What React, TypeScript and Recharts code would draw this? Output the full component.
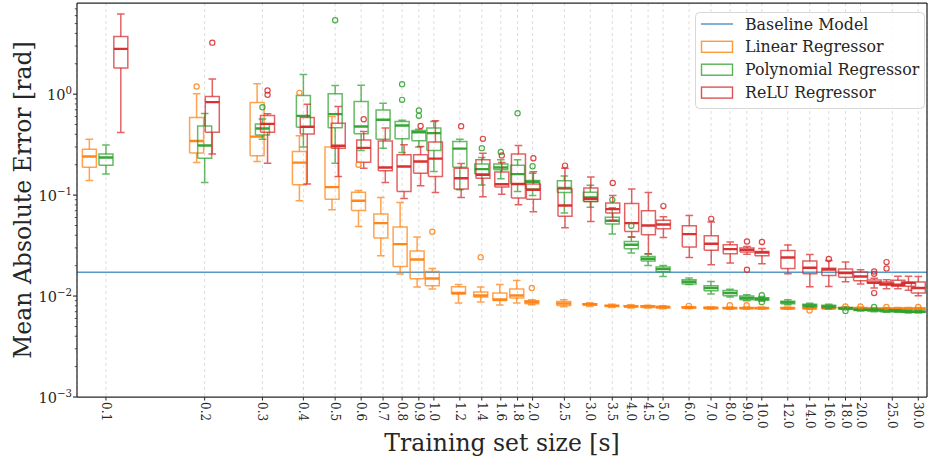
import React from 'react';
import { ComposedChart, Line, Scatter, XAxis, YAxis, CartesianGrid, ReferenceLine } from 'recharts';

// ---------- data ----------
const positions = [0.1, 0.2, 0.3, 0.4, 0.5, 0.6, 0.7, 0.8, 0.9, 1.0, 1.2, 1.4, 1.6, 1.8, 2.0, 2.5, 3.0, 3.5, 4.0, 4.5, 5.0, 6.0, 7.0, 8.0, 9.0, 10.0, 12.0, 14.0, 16.0, 18.0, 20.0, 22.0, 24.0, 26.0, 28.0, 30.0];

const xTickValues = [0.1, 0.2, 0.3, 0.4, 0.5, 0.6, 0.7, 0.8, 0.9, 1.0, 1.2, 1.4, 1.6, 1.8, 2.0, 2.5, 3.0, 3.5, 4.0, 4.5, 5.0, 6.0, 7.0, 8.0, 9.0, 10.0, 12.0, 14.0, 16.0, 18.0, 20.0, 25.0, 30.0];
const xTickLabels = ['0.1', '0.2', '0.3', '0.4', '0.5', '0.6', '0.7', '0.8', '0.9', '1.0', '1.2', '1.4', '1.6', '1.8', '2.0', '2.5', '3.0', '3.5', '4.0', '4.5', '5.0', '6.0', '7.0', '8.0', '9.0', '10.0', '12.0', '14.0', '16.0', '18.0', '20.0', '25.0', '30.0'];

const yMajorTicks = [0.001, 0.01, 0.1, 1];
const yTickExponents = ['\u22123', '\u22122', '\u22121', '0'];
const yMinorTicks = [
  0.002, 0.003, 0.004, 0.005, 0.006, 0.007, 0.008, 0.009,
  0.02, 0.03, 0.04, 0.05, 0.06, 0.07, 0.08, 0.09,
  0.2, 0.3, 0.4, 0.5, 0.6, 0.7, 0.8, 0.9,
  2, 3, 4, 5, 6, 7,
];

const baselineError = 0.0172;

// [whisker low, Q1, median, Q3, whisker high] per training-set size
const linearBoxes = [
  [0.1395, 0.189, 0.241, 0.285, 0.358],
  [0.21, 0.261, 0.343, 0.587, 1.01],
  [0.215, 0.245, 0.38, 0.826, 1.265],
  [0.0879, 0.1265, 0.21, 0.27, 0.387],
  [0.0715, 0.0912, 0.12, 0.299, 0.6],
  [0.0489, 0.0704, 0.0879, 0.107, 0.111],
  [0.0251, 0.0375, 0.0528, 0.0649, 0.0946],
  [0.0165, 0.0196, 0.0327, 0.0482, 0.0845],
  [0.01227, 0.0148, 0.023, 0.0279, 0.0384],
  [0.01172, 0.01265, 0.01494, 0.01753, 0.01876],
  [0.00853, 0.01046, 0.01071, 0.01236, 0.01303],
  [0.00872, 0.00977, 0.01014, 0.01096, 0.01227],
  [0.00814, 0.00904, 0.00925, 0.01071, 0.01303],
  [0.00853, 0.00955, 0.01014, 0.01172, 0.01427],
  [0.0082, 0.0084, 0.00872, 0.009, 0.0092],
  [0.00785, 0.00807, 0.00845, 0.00885, 0.0092],
  [0.0079, 0.0081, 0.0083, 0.0084, 0.0086],
  [0.0077, 0.0079, 0.008, 0.0081, 0.0083],
  [0.0076, 0.0078, 0.0079, 0.008, 0.0082],
  [0.0076, 0.0077, 0.0079, 0.008, 0.0081],
  [0.0075, 0.0076, 0.0078, 0.0079, 0.008],
  [0.0075, 0.0076, 0.0077, 0.0078, 0.0079],
  [0.0074, 0.0075, 0.00765, 0.0077, 0.0078],
  [0.0074, 0.0075, 0.0076, 0.0077, 0.0078],
  [0.0074, 0.0075, 0.0076, 0.0077, 0.0078],
  [0.0074, 0.0075, 0.0076, 0.0077, 0.0078],
  [0.0074, 0.0075, 0.00757, 0.0077, 0.0078],
  [0.0074, 0.0075, 0.00757, 0.0077, 0.0078],
  [0.0074, 0.0075, 0.00757, 0.0077, 0.0078],
  [0.0074, 0.0075, 0.00757, 0.0077, 0.0078],
  [0.0074, 0.0075, 0.00757, 0.0077, 0.0078],
  [0.0073, 0.0074, 0.0075, 0.0076, 0.0077],
  [0.0073, 0.0074, 0.0075, 0.0076, 0.0077],
  [0.0073, 0.0074, 0.0075, 0.0076, 0.0077],
  [0.0073, 0.0074, 0.0075, 0.0076, 0.0077],
  [0.0073, 0.0074, 0.0075, 0.0076, 0.0077],
];

const polynomialBoxes = [
  [0.1614, 0.198, 0.236, 0.255, 0.313],
  [0.133, 0.232, 0.31, 0.485, 0.643],
  [0.358, 0.395, 0.457, 0.505, 0.569],
  [0.3, 0.471, 0.61, 0.969, 1.563],
  [0.207, 0.464, 0.634, 1.01, 1.217],
  [0.277, 0.405, 0.478, 0.845, 1.227],
  [0.292, 0.358, 0.557, 0.695, 0.815],
  [0.264, 0.361, 0.489, 0.535, 0.55],
  [0.3, 0.345, 0.42, 0.436, 0.45],
  [0.171, 0.277, 0.411, 0.461, 0.535],
  [0.113, 0.189, 0.289, 0.34, 0.358],
  [0.1256, 0.1614, 0.181, 0.203, 0.236],
  [0.145, 0.178, 0.1876, 0.203, 0.224],
  [0.1086, 0.1285, 0.1614, 0.198, 0.224],
  [0.099, 0.1147, 0.1355, 0.1395, 0.165],
  [0.0664, 0.106, 0.118, 0.1386, 0.155],
  [0.076, 0.0865, 0.0946, 0.107, 0.125],
  [0.0411, 0.0516, 0.0557, 0.0605, 0.075],
  [0.0267, 0.0294, 0.0322, 0.0347, 0.0384],
  [0.0201, 0.0222, 0.0234, 0.0247, 0.0261],
  [0.0156, 0.0174, 0.0185, 0.0194, 0.0201],
  [0.013, 0.01315, 0.01386, 0.0145, 0.0151],
  [0.01046, 0.01128, 0.012, 0.01265, 0.01396],
  [0.0098, 0.01007, 0.01071, 0.01136, 0.0117],
  [0.009, 0.00919, 0.00955, 0.01, 0.0103],
  [0.0089, 0.0091, 0.00934, 0.0096, 0.0099],
  [0.0082, 0.0084, 0.00865, 0.0089, 0.0092],
  [0.0078, 0.0079, 0.00807, 0.0083, 0.0085],
  [0.0075, 0.0077, 0.0079, 0.0081, 0.0083],
  [0.0073, 0.0074, 0.0076, 0.0077, 0.0078],
  [0.0071, 0.0072, 0.0073, 0.0074, 0.0075],
  [0.007, 0.0071, 0.00725, 0.0074, 0.0075],
  [0.0069, 0.007, 0.0072, 0.0073, 0.0074],
  [0.0069, 0.007, 0.0071, 0.0072, 0.0073],
  [0.0068, 0.0069, 0.007, 0.0071, 0.0072],
  [0.0068, 0.0069, 0.007, 0.0071, 0.0072],
];

const reluBoxes = [
  [0.417, 1.82, 2.81, 3.72, 6.24],
  [0.256, 0.42, 0.833, 0.947, 1.417],
  [0.207, 0.42, 0.508, 0.614, 0.638],
  [0.129, 0.402, 0.475, 0.587, 0.796],
  [0.153, 0.292, 0.308, 0.516, 0.754],
  [0.185, 0.212, 0.294, 0.351, 0.426],
  [0.133, 0.174, 0.1876, 0.343, 0.461],
  [0.0925, 0.1086, 0.192, 0.251, 0.315],
  [0.1236, 0.165, 0.215, 0.251, 0.303],
  [0.106, 0.153, 0.23, 0.335, 0.544],
  [0.0946, 0.1147, 0.147, 0.185, 0.2056],
  [0.0962, 0.147, 0.159, 0.224, 0.26],
  [0.102, 0.12, 0.128, 0.169, 0.21],
  [0.0802, 0.0934, 0.129, 0.255, 0.31],
  [0.0684, 0.0912, 0.113, 0.129, 0.17],
  [0.0474, 0.0619, 0.0788, 0.1147, 0.185],
  [0.0548, 0.0865, 0.0919, 0.1173, 0.151],
  [0.056, 0.0664, 0.0727, 0.0833, 0.099],
  [0.0384, 0.0436, 0.0528, 0.0826, 0.1147],
  [0.0262, 0.0404, 0.05, 0.07, 0.106],
  [0.038, 0.0464, 0.0512, 0.0565, 0.061],
  [0.0241, 0.0306, 0.0411, 0.0497, 0.0628],
  [0.0204, 0.0285, 0.033, 0.0395, 0.054],
  [0.0212, 0.0262, 0.0292, 0.0322, 0.0343],
  [0.026, 0.0273, 0.0287, 0.0299, 0.031],
  [0.0209, 0.0251, 0.027, 0.0277, 0.0296],
  [0.01663, 0.01876, 0.0241, 0.0283, 0.032],
  [0.01236, 0.01663, 0.0191, 0.0222, 0.0258],
  [0.01245, 0.016, 0.01834, 0.0189, 0.0225],
  [0.01386, 0.0154, 0.0169, 0.0185, 0.0217],
  [0.01315, 0.01416, 0.0156, 0.0173, 0.0182],
  [0.012, 0.0134, 0.01364, 0.0144, 0.015],
  [0.0118, 0.0128, 0.01324, 0.0138, 0.0145],
  [0.0118, 0.0125, 0.01294, 0.0143, 0.0157],
  [0.0114, 0.0125, 0.0135, 0.0138, 0.0157],
  [0.01007, 0.0107, 0.012, 0.0138, 0.0156],
];

// [training-set size, error] of fliers
const linearOutliers = [
  [0.2, 1.19], [0.4, 1.03], [0.6, 0.2], [1.0, 0.0433], [1.4, 0.0243], [2.0, 0.012],
  [6.0, 0.008], [8.0, 0.0081], [9.0, 0.0081], [14.0, 0.0072], [18.0, 0.0079], [20.0, 0.0079],
  [24.0, 0.0078], [30.0, 0.0078],
];
const polynomialOutliers = [
  [0.3, 0.743], [0.5, 5.4], [0.8, 1.256], [0.8, 0.878], [0.9, 0.688], [0.9, 0.61],
  [1.4, 0.292], [1.6, 0.268], [1.8, 0.648], [2.0, 0.193], [3.5, 0.0898], [4.0, 0.0497],
  [10.0, 0.0102], [10.0, 0.0087], [18.0, 0.0071], [22.0, 0.0078],
];
const reluOutliers = [
  [0.2, 3.24], [0.3, 1.086], [0.3, 0.984], [0.6, 0.565], [0.9, 0.485], [1.2, 0.482],
  [1.4, 0.361], [1.6, 0.247], [2.0, 0.232], [2.5, 0.196], [3.5, 0.132], [5.0, 0.0778],
  [7.0, 0.0582], [9.0, 0.0347], [9.0, 0.0182], [10.0, 0.0343], [16.0, 0.0233],
  [22.0, 0.0175], [22.0, 0.0166], [22.0, 0.0107], [24.0, 0.0217], [24.0, 0.0188],
];

// ---------- geometry / style ----------
const X_DOMAIN = [0.0816, 31.9];
const Y_DOMAIN = [0.001, 8];
const PX_PER_DECADE = 328;
const BOX_HALF = Math.pow(10, 7 / PX_PER_DECADE);
const CAP_HALF = Math.pow(10, 3.8 / PX_PER_DECADE);
const INK = '#262626';
const FONT = '"DejaVu Serif", serif';

const models = [
  { name: 'Linear Regressor', color: '#ff7f0e', boxes: linearBoxes, outliers: linearOutliers, offset: -0.011 },
  { name: 'Polynomial Regressor', color: '#2ca02c', boxes: polynomialBoxes, outliers: polynomialOutliers, offset: 0 },
  { name: 'ReLU Regressor', color: '#d62728', boxes: reluBoxes, outliers: reluOutliers, offset: 0.011 },
];

type Pt = { x: number; y: number | null };

function buildGeometry(boxes: number[][], offset: number) {
  const outline: Pt[] = [];
  const whiskers: Pt[] = [];
  const medians: Pt[] = [];
  positions.forEach((p, i) => {
    const [lo, q1, med, q3, hi] = boxes[i];
    const c = p + offset;
    const x0 = c / BOX_HALF;
    const x1 = c * BOX_HALF;
    const k0 = c / CAP_HALF;
    const k1 = c * CAP_HALF;
    outline.push({ x: x0, y: q1 }, { x: x1, y: q1 }, { x: x1, y: q3 }, { x: x0, y: q3 }, { x: x0, y: q1 }, { x: x0, y: null });
    whiskers.push(
      { x: c, y: q3 }, { x: c, y: hi }, { x: c, y: null },
      { x: c, y: q1 }, { x: c, y: lo }, { x: c, y: null },
      { x: k0, y: hi }, { x: k1, y: hi }, { x: k1, y: null },
      { x: k0, y: lo }, { x: k1, y: lo }, { x: k1, y: null },
    );
    medians.push({ x: x0, y: med }, { x: x1, y: med }, { x: x1, y: null });
  });
  return { outline, whiskers, medians };
}

const XTick = (props: any) => {
  const { x, y, payload } = props;
  const idx = xTickValues.indexOf(payload.value);
  return (
    <text
      transform={`translate(${x},${y}) rotate(90)`}
      textAnchor="start"
      dominantBaseline="central"
      fontFamily={FONT}
      fontSize={12}
      fill={INK}
    >
      {idx >= 0 ? xTickLabels[idx] : ''}
    </text>
  );
};

const YTick = (props: any) => {
  const { x, y, payload } = props;
  const mi = yMajorTicks.indexOf(payload.value);
  if (mi < 0) {
    return <line x1={x} x2={x - 2.2} y1={y} y2={y} stroke={INK} strokeWidth={0.8} />;
  }
  return (
    <g>
      <line x1={x} x2={x - 4} y1={y} y2={y} stroke={INK} strokeWidth={1.1} />
      <text x={x - 5} y={y + 5.6} textAnchor="end" fontFamily={FONT} fontSize={14.5} fill={INK}>
        10
        <tspan dy={-5.5} fontSize={10.2}>{yTickExponents[mi]}</tspan>
      </text>
    </g>
  );
};

const Outlier = (color: string) => (props: any) => {
  const { cx, cy } = props;
  if (cx == null || cy == null) return <g />;
  return <circle cx={cx} cy={cy} r={2.6} fill="none" stroke={color} strokeWidth={1.2} strokeOpacity={0.85} />;
};

export default function App() {
  const series: any[] = [];
  models.forEach((m, mi) => {
    const g = buildGeometry(m.boxes, m.offset);
    series.push(
      <Line key={`o${mi}`} data={g.outline} dataKey="y" type="linear" stroke={m.color} strokeOpacity={0.72} strokeWidth={1.5}
        dot={false} activeDot={false} isAnimationActive={false} connectNulls={false} />,
      <Line key={`w${mi}`} data={g.whiskers} dataKey="y" type="linear" stroke={m.color} strokeOpacity={0.72} strokeWidth={1.5}
        dot={false} activeDot={false} isAnimationActive={false} connectNulls={false} />,
      <Line key={`m${mi}`} data={g.medians} dataKey="y" type="linear" stroke={m.color} strokeOpacity={0.95} strokeWidth={2.4}
        dot={false} activeDot={false} isAnimationActive={false} connectNulls={false} />,
      <Scatter key={`s${mi}`} data={m.outliers.map(([x, y]) => ({ x: x + m.offset, y }))} dataKey="y"
        shape={Outlier(m.color)} isAnimationActive={false} />,
    );
  });

  return (
    <div style={{ position: 'absolute', left: 0, top: 0, width: 928, height: 462, background: '#fff' }}>
      <ComposedChart width={928} height={462} margin={{ top: 3, right: 1, bottom: 0, left: 0 }}>
        <CartesianGrid horizontal={false} stroke="#d4d4d4" strokeDasharray="3 3" strokeWidth={0.8} />
        <XAxis
          dataKey="x"
          type="number"
          scale="log"
          domain={X_DOMAIN}
          allowDataOverflow
          ticks={xTickValues}
          interval={0}
          tick={<XTick />}
          tickSize={3.5}
          tickMargin={1.5}
          tickLine={{ stroke: INK, strokeWidth: 1 }}
          axisLine={{ stroke: INK, strokeWidth: 1.25 }}
          height={65}
          label={(p: any) => {
            const vb = p && p.viewBox ? p.viewBox : { x: 77, y: 397, width: 850, height: 65 };
            return (
              <text x={vb.x + vb.width / 2} y={vb.y + 54} textAnchor="middle" fontFamily={FONT} fontSize={23.5} fill={INK}>
                Training set size [s]
              </text>
            );
          }}
        />
        <YAxis
          dataKey="y"
          type="number"
          scale="log"
          domain={Y_DOMAIN}
          allowDataOverflow
          ticks={[...yMajorTicks, ...yMinorTicks]}
          interval={0}
          tick={<YTick />}
          tickLine={false}
          tickSize={0}
          tickMargin={0}
          axisLine={{ stroke: INK, strokeWidth: 1.25 }}
          width={77}
          label={(p: any) => {
            const vb = p && p.viewBox ? p.viewBox : { x: 0, y: 3, width: 77, height: 394 };
            const cx = vb.x + 31;
            const cy = vb.y + vb.height / 2;
            return (
              <text x={cx} y={cy} transform={`rotate(-90, ${cx}, ${cy})`} textAnchor="middle" fontFamily={FONT} fontSize={23.5} fill={INK}>
                Mean Absolute Error [rad]
              </text>
            );
          }}
        />
        <ReferenceLine y={baselineError} stroke="#1f77b4" strokeOpacity={0.75} strokeWidth={1.4} />
        {series}
        <ReferenceLine y={Y_DOMAIN[1]} stroke={INK} strokeWidth={1.25} />
        <ReferenceLine x={X_DOMAIN[1]} stroke={INK} strokeWidth={1.25} />
      </ComposedChart>
      <svg width={928} height={462} style={{ position: 'absolute', left: 0, top: 0, pointerEvents: 'none' }}>
        <rect x={695.5} y={12.5} width={229} height={96} rx={4} fill="#fff" fillOpacity={0.82} stroke="#d8d8d8" strokeWidth={1} />
        <line x1={701} x2={733} y1={24} y2={24} stroke="#1f77b4" strokeOpacity={0.75} strokeWidth={1.5} />
        <text x={745} y={29.5} fontFamily={FONT} fontSize={15.8} fill={INK}>Baseline Model</text>
        {models.map((m, i) => {
          const cy = 46.8 + i * 22.9;
          return (
            <g key={m.name}>
              <rect x={701.5} y={cy - 5.5} width={31} height={11} fill="none" stroke={m.color} strokeOpacity={0.8} strokeWidth={1.4} />
              <text x={745} y={cy + 5.5} fontFamily={FONT} fontSize={15.8} fill={INK}>{m.name}</text>
            </g>
          );
        })}
      </svg>
    </div>
  );
}
